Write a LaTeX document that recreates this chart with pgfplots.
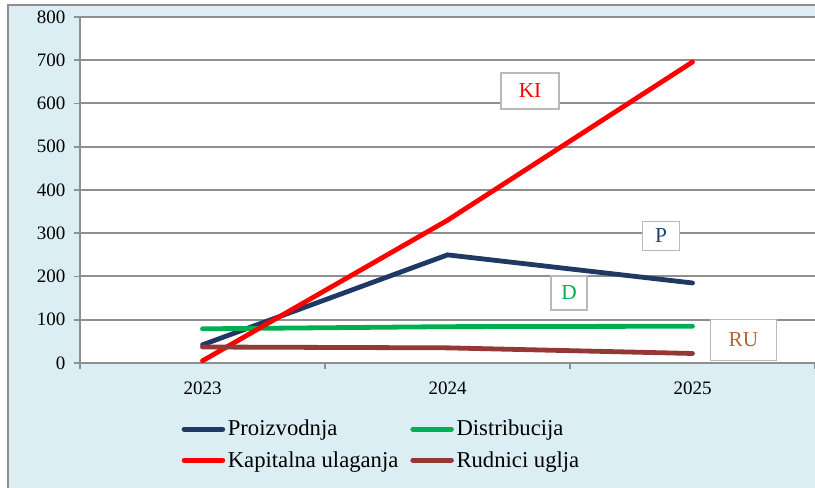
\documentclass[border=0pt]{standalone}
\usepackage{pgfplots}
\pgfplotsset{compat=1.18}
\usepackage{fontspec}
\setmainfont{Liberation Serif}
\definecolor{bgblue}{HTML}{DBEEF4}
\definecolor{gridgray}{HTML}{8F8F8F}
\definecolor{navy}{HTML}{1F3864}
\definecolor{grn}{HTML}{00B050}
\definecolor{brn}{HTML}{953735}
\definecolor{rutext}{HTML}{B7652F}
\definecolor{ptext}{HTML}{1F3F6E}
\begin{document}
\begin{tikzpicture}[x=0.75pt,y=0.75pt]
\useasboundingbox (0,0) rectangle (815,488);
\begin{scope}
\clip (0,0) rectangle (815,488);
\fill[white] (0,0) rectangle (815,488);
\fill[bgblue] (8,-10) rectangle (830,483);
\draw[gridgray, line width=1.5pt] (8,-10) -- (8,483) -- (830,483);
\end{scope}
\begin{axis}[
  at={(60pt,93.75pt)}, anchor=south west,
  width=551.25pt, height=259.5pt, scale only axis,
  clip=false,
  xmin=-0.5, xmax=2.5, ymin=0, ymax=800,
  axis background/.style={fill=white},
  axis x line*=bottom, axis y line*=left,
  axis line style={gridgray, line width=1.5pt, -},
  xtick={0,1,2}, xticklabels={2023,2024,2025},
  minor xtick={-0.5,0.5,1.5,2.5},
  major x tick style={draw=none},
  minor x tick style={gridgray, line width=1.2pt},
  minor tick length=4.5pt,
  ytick={0,100,...,800},
  ymajorgrids,
  major grid style={gridgray, line width=1.5pt},
  major y tick style={gridgray, line width=1.2pt},
  major tick length=4.5pt,
  tick align=outside,
  tick label style={font=\fontsize{14.25}{16}\selectfont, text=black},
  /pgf/number format/assume math mode=true,
  xticklabel style={yshift=-6pt},
  yticklabel style={xshift=-3pt},
  legend columns=2,
  legend style={at={(rel axis cs:0.138,-0.157)}, anchor=north west,
    draw=none, fill=none, font=\fontsize{17}{19}\selectfont,
    row sep=6pt, inner sep=0pt,
    /tikz/every even column/.append style={column sep=7pt}},
  legend cell align=left,
  legend image code/.code={\draw[#1, line cap=round] (0pt,0pt) -- (29pt,0pt);},
  every axis plot/.append style={line width=3.6pt, line cap=round},
]
\addplot[navy] coordinates {(0,42) (1,250) (2,185)};
\addlegendentry{Proizvodnja}
\addplot[grn] coordinates {(0,79) (1,84) (2,85)};
\addlegendentry{Distribucija}
\addplot[red] coordinates {(0,5) (1,330) (2,696)};
\addlegendentry{Kapitalna ulaganja}
\addplot[brn] coordinates {(0,37) (1,35) (2,22)};
\addlegendentry{Rudnici uglja}
\tikzset{lbl/.style={draw=gray!55, line width=1pt, fill=white, inner sep=0pt, font=\fontsize{16}{18}\selectfont}}
\node[lbl, minimum width=43.5pt, minimum height=27pt, text=red] at (axis cs:1.337,629) {KI};
\node[lbl, minimum width=27.75pt, minimum height=21.75pt, text=ptext] at (axis cs:1.872,294) {P};
\node[lbl, minimum width=27pt, minimum height=25.5pt, text=grn] at (axis cs:1.496,162) {D};
\node[lbl, minimum width=49.5pt, minimum height=30.75pt, text=rutext] at (axis cs:2.208,53) {RU};
\end{axis}
\end{tikzpicture}
\end{document}
